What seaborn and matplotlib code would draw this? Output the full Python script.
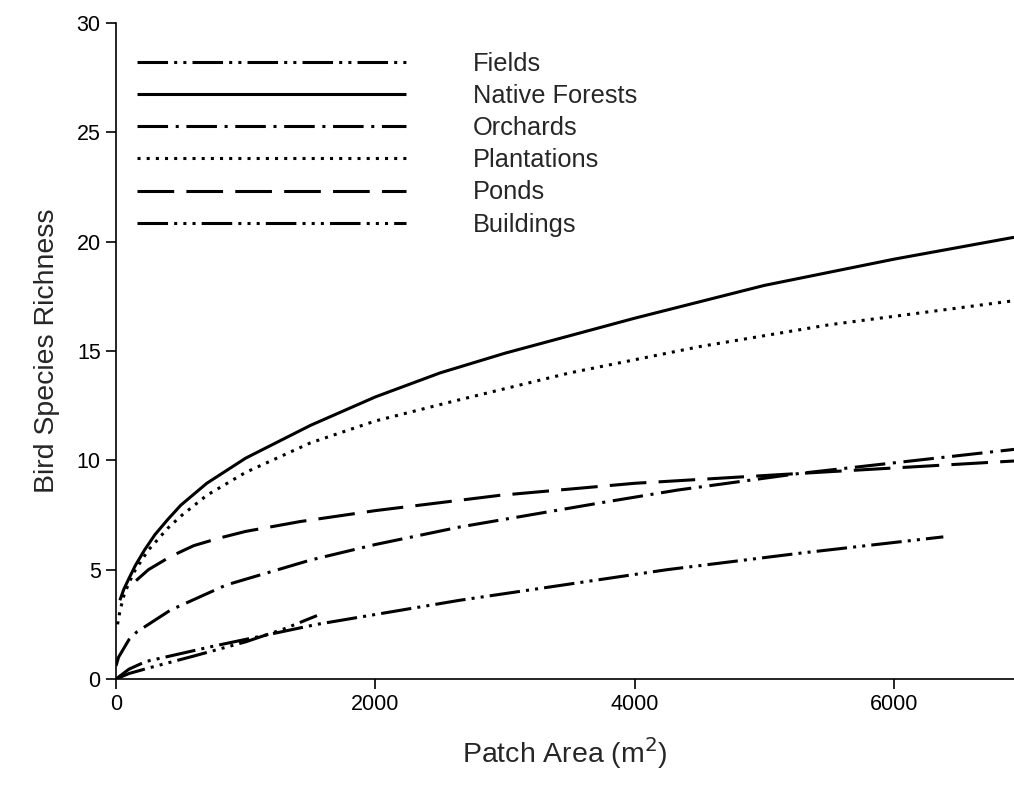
import matplotlib
matplotlib.use("Agg")
import matplotlib.pyplot as plt
import seaborn as sns
import pandas as pd

# ---- data ----
categories = ["Fields", "Native Forests", "Orchards", "Plantations", "Ponds", "Buildings"]

fields_x = [0, 100, 230, 750, 1550, 2000, 2650, 4250, 5270, 6380]
fields_y = [0.0, 0.45, 0.8, 1.5, 2.5, 2.95, 3.6, 5.0, 5.75, 6.5]

forest_x = [30, 60, 100, 150, 220, 300, 400, 500, 700, 1000, 1500, 2000, 2500, 3000, 4000, 5000, 6000, 6925]
forest_y = [3.6, 4.1, 4.6, 5.2, 5.9, 6.6, 7.3, 7.95, 8.95, 10.1, 11.6, 12.9, 14.0, 14.9, 16.5, 18.0, 19.2, 20.2]

orchard_x = [0, 20, 50, 100, 160, 420, 850, 1500, 2000, 2650, 3730, 4330, 5270, 6925]
orchard_y = [0.6, 1.0, 1.3, 1.8, 2.15, 3.15, 4.3, 5.44, 6.15, 6.95, 8.05, 8.64, 9.4, 10.5]

plant_x = [12, 30, 60, 100, 150, 250, 400, 500, 700, 1000, 1500, 2000, 2600, 3500, 4500, 5500, 6925]
plant_y = [2.5, 3.1, 3.8, 4.4, 5.0, 5.9, 6.9, 7.45, 8.4, 9.45, 10.8, 11.8, 12.7, 14.0, 15.2, 16.2, 17.3]

ponds_x = [155, 250, 420, 600, 800, 1000, 1420, 2000, 2960, 4000, 5270, 6925]
ponds_y = [4.5, 5.0, 5.6, 6.1, 6.45, 6.75, 7.2, 7.7, 8.4, 8.95, 9.4, 9.97]

build_x = [0, 100, 250, 600, 1000, 1300, 1550]
build_y = [0.0, 0.25, 0.5, 1.05, 1.7, 2.3, 2.9]

series = {
    "Fields": (fields_x, fields_y),
    "Native Forests": (forest_x, forest_y),
    "Orchards": (orchard_x, orchard_y),
    "Plantations": (plant_x, plant_y),
    "Ponds": (ponds_x, ponds_y),
    "Buildings": (build_x, build_y),
}

rows = []
for name in categories:
    xs, ys = series[name]
    for x, y in zip(xs, ys):
        rows.append({"area": x, "richness": y, "habitat": name})
df = pd.DataFrame(rows)

# ---- styling ----
sns.set_style("ticks")
plt.rcParams["font.family"] = ["Liberation Sans", "DejaVu Sans"]
plt.rcParams["lines.solid_capstyle"] = "butt"
plt.rcParams["lines.dash_capstyle"] = "butt"

dashes = {
    "Fields": (10, 2, 1, 2, 1, 2),
    "Native Forests": "",
    "Orchards": (10, 2.5, 1, 2.5),
    "Plantations": (1, 2),
    "Ponds": (12, 4),
    "Buildings": (10, 2, 1, 2, 1, 2, 1, 2),
}
palette = {c: "black" for c in categories}

fig = plt.figure(figsize=(10.14, 7.87), dpi=100)
ax = fig.add_axes([116 / 1014, (787 - 679) / 787, (1014 - 116) / 1014, (679 - 23) / 787])

sns.lineplot(data=df, x="area", y="richness", hue="habitat", style="habitat",
             hue_order=categories, style_order=categories,
             palette=palette, dashes=dashes, linewidth=2.2,
             errorbar=None, sort=True, ax=ax)

ax.set_xlim(0, 6925)
ax.set_ylim(0, 30)
ax.set_xticks([0, 2000, 4000, 6000])
ax.set_yticks([0, 5, 10, 15, 20, 25, 30])
ax.tick_params(axis="both", direction="out", length=7, width=1.2, labelsize=15.5, colors="black", pad=4)
for s in ["left", "bottom"]:
    ax.spines[s].set_linewidth(1.2)
    ax.spines[s].set_color("black")
sns.despine(ax=ax, top=True, right=True)

ax.set_xlabel("Patch Area (m$^2$)", fontsize=20.5, labelpad=14)
ax.set_ylabel("Bird Species Richness", fontsize=20.5, labelpad=12)

handles, labels = ax.get_legend_handles_labels()
hl = [(h, l) for h, l in zip(handles, labels) if l in categories]
for h, _ in hl:
    h.set_linewidth(2.2)
ax.legend([h for h, _ in hl], [l for _, l in hl], loc="upper left",
          bbox_to_anchor=(0.0234, 0.956), frameon=False, fontsize=18.3,
          handlelength=10.6, handletextpad=2.6, labelspacing=0.32, borderpad=0,
          borderaxespad=0)

fig.savefig("out.png", dpi=100)
